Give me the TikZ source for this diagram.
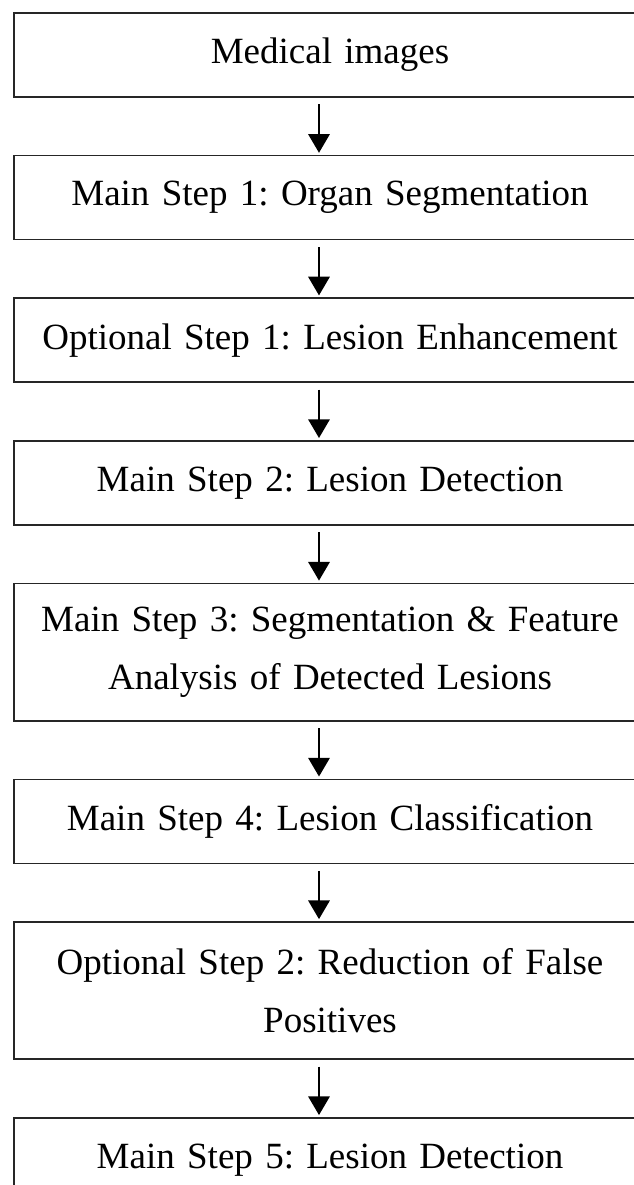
\documentclass[tikz,border=0pt]{standalone}
\usepackage{fontspec}
\setmainfont{Liberation Serif}
\usetikzlibrary{positioning,arrows.meta}

\providecommand{\flecha}[2]{
    \draw[flecha] ([xshift=-8.25pt]#1.south) -- ([xshift=-8.25pt]#2.south |- #2.north);
}

\begin{document}
\frenchspacing
\begin{tikzpicture}[
    x=0.75pt, y=0.75pt,
    node distance=42.75pt,
    stage/.style={draw=black!85, line width=1.2pt, rectangle, minimum width=474pt, minimum height=63pt,
        text width=450pt, align=center, inner xsep=12pt, font=\fontsize{27.75}{43.5}\selectfont},
    stagetwo/.style={stage, minimum height=103pt},
    flecha/.style={line width=1.6pt, -{Triangle[width=16pt, length=14pt]}, shorten <=5pt, shorten >=1.5pt}
]
    \useasboundingbox (0,0) rectangle (634,-1185);

    % PASOS DEL PROCESO
    \node[stage] (IMG) at (330,-55) {Medical images};
    \node[stage, below=of IMG] (M1) {Main Step 1: Organ Segmentation};
    \node[stage, below=of M1] (O1) {Optional Step 1: Lesion Enhancement};
    \node[stage, below=of O1] (M2) {Main Step 2: Lesion Detection};
    \node[stagetwo, below=of M2] (M3) {Main Step 3: Segmentation \& Feature\\Analysis of Detected Lesions};
    \node[stage, below=of M3] (M4) {Main Step 4: Lesion Classification};
    \node[stagetwo, below=of M4] (O2) {Optional Step 2: Reduction of False\\Positives};
    \node[stage, below=of O2] (M5) {Main Step 5: Lesion Detection};

    % FLECHAS ENTRE PASOS
    \flecha{IMG}{M1}
    \flecha{M1}{O1}
    \flecha{O1}{M2}
    \flecha{M2}{M3}
    \flecha{M3}{M4}
    \flecha{M4}{O2}
    \flecha{O2}{M5}

\end{tikzpicture}
\end{document}
